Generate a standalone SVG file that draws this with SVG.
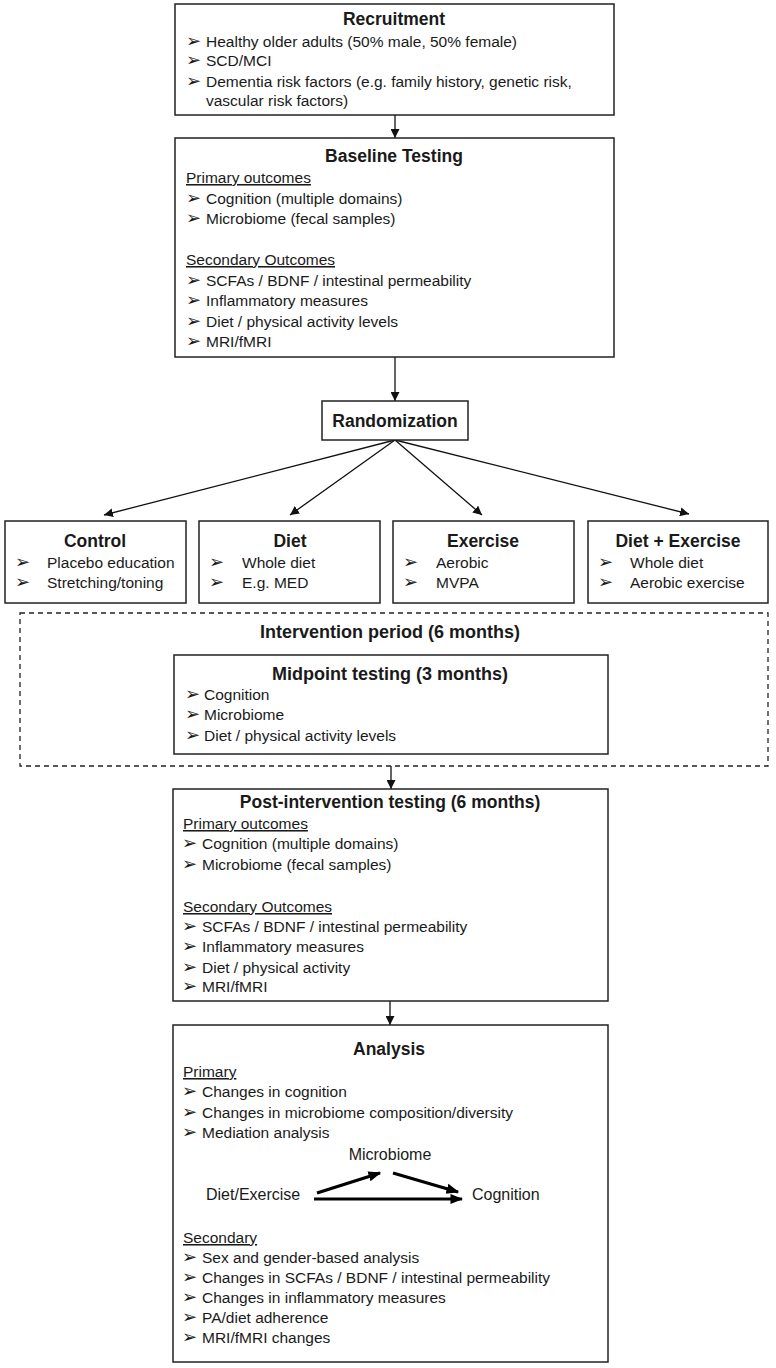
<svg xmlns="http://www.w3.org/2000/svg" width="776" height="1368" viewBox="0 0 776 1368">
<style>
text{font-family:"Liberation Sans",Arial,sans-serif;fill:#1a1a1a}
.t{font-size:17.5px;font-weight:bold;text-anchor:middle}
.b{font-size:15.5px}
.u{font-size:15.5px;text-decoration:underline}
.k{font-family:"DejaVu Sans",sans-serif;font-size:18px}
.m{font-size:16px}
.box{fill:#fff;stroke:#222;stroke-width:1.5}
.dash{fill:none;stroke:#222;stroke-width:1.3;stroke-dasharray:5,4}
.c{fill:none;stroke:#111;stroke-width:1.3}
.thick{fill:none;stroke:#000;stroke-width:3.2}
</style>
<defs>
<marker id="ah" viewBox="0 0 10 10" refX="10" refY="5" markerWidth="9" markerHeight="9" markerUnits="userSpaceOnUse" orient="auto">
<path d="M0,0 L10,5 L0,10 z" fill="#111"/>
</marker>
<marker id="ah2" viewBox="0 0 10 10" refX="9" refY="5" markerWidth="4" markerHeight="4" orient="auto">
<path d="M0,1 L10,5 L0,9 z" fill="#000"/>
</marker>
</defs>
<rect width="776" height="1368" fill="#fff"/>

<g id="connectors">
<line class="c" x1="395" y1="115" x2="395" y2="138" marker-end="url(#ah)"/>
<line class="c" x1="395" y1="357" x2="395" y2="401" marker-end="url(#ah)"/>
<line class="c" x1="395" y1="440" x2="104" y2="515" marker-end="url(#ah)"/>
<line class="c" x1="395" y1="440" x2="290" y2="515" marker-end="url(#ah)"/>
<line class="c" x1="395" y1="440" x2="482" y2="515" marker-end="url(#ah)"/>
<line class="c" x1="395" y1="440" x2="689" y2="514" marker-end="url(#ah)"/>
<line class="c" x1="391" y1="766" x2="391" y2="789" marker-end="url(#ah)"/>
<line class="c" x1="390" y1="1001" x2="390" y2="1025" marker-end="url(#ah)"/>
</g>

<g id="recruitment">
<rect class="box" x="175" y="4" width="439" height="111"/>
<text class="t" x="394" y="25">Recruitment</text>
<text class="k" x="186" y="47">➢</text><text class="b" x="206" y="47">Healthy older adults (50% male, 50% female)</text>
<text class="k" x="186" y="66">➢</text><text class="b" x="206" y="66">SCD/MCI</text>
<text class="k" x="186" y="87">➢</text><text class="b" x="206" y="87">Dementia risk factors (e.g. family history, genetic risk,</text>
<text class="b" x="206" y="106">vascular risk factors)</text>
</g>

<g id="baseline">
<rect class="box" x="175" y="138" width="439" height="219"/>
<text class="t" x="394" y="162">Baseline Testing</text>
<text class="u" x="186" y="183">Primary outcomes</text>
<text class="k" x="186" y="204">➢</text><text class="b" x="206" y="204">Cognition (multiple domains)</text>
<text class="k" x="186" y="224">➢</text><text class="b" x="206" y="224">Microbiome (fecal samples)</text>
<text class="u" x="186" y="265">Secondary Outcomes</text>
<text class="k" x="186" y="286">➢</text><text class="b" x="206" y="286">SCFAs / BDNF / intestinal permeability</text>
<text class="k" x="186" y="306">➢</text><text class="b" x="206" y="306">Inflammatory measures</text>
<text class="k" x="186" y="327">➢</text><text class="b" x="206" y="327">Diet / physical activity levels</text>
<text class="k" x="186" y="347">➢</text><text class="b" x="206" y="347">MRI/fMRI</text>
</g>

<g id="randomization">
<rect class="box" x="322" y="401" width="146" height="39"/>
<text class="t" x="395" y="427">Randomization</text>
</g>

<g id="control">
<rect class="box" x="5" y="521" width="181" height="82"/>
<text class="t" x="95" y="547">Control</text>
<text class="k" x="15" y="568">➢</text><text class="b" x="47" y="568">Placebo education</text>
<text class="k" x="15" y="588">➢</text><text class="b" x="47" y="588">Stretching/toning</text>
</g>

<g id="diet">
<rect class="box" x="199" y="521" width="181" height="82"/>
<text class="t" x="290" y="547">Diet</text>
<text class="k" x="209" y="568">➢</text><text class="b" x="242" y="568">Whole diet</text>
<text class="k" x="209" y="588">➢</text><text class="b" x="242" y="588">E.g. MED</text>
</g>

<g id="exercise">
<rect class="box" x="393" y="521" width="181" height="82"/>
<text class="t" x="483" y="547">Exercise</text>
<text class="k" x="403" y="568">➢</text><text class="b" x="436" y="568">Aerobic</text>
<text class="k" x="403" y="588">➢</text><text class="b" x="436" y="588">MVPA</text>
</g>

<g id="diet-exercise">
<rect class="box" x="588" y="521" width="180" height="82"/>
<text class="t" x="678" y="547">Diet + Exercise</text>
<text class="k" x="598" y="568">➢</text><text class="b" x="630" y="568">Whole diet</text>
<text class="k" x="598" y="588">➢</text><text class="b" x="630" y="588">Aerobic exercise</text>
</g>

<g id="intervention-period">
<rect class="dash" x="20" y="613" width="748" height="153"/>
<text class="t" x="390" y="638" style="font-size:18px">Intervention period (6 months)</text>
</g>

<g id="midpoint">
<rect class="box" x="174" y="655" width="434" height="99"/>
<text class="t" x="390" y="680" style="font-size:18px">Midpoint testing (3 months)</text>
<text class="k" x="185" y="700">➢</text><text class="b" x="204" y="700">Cognition</text>
<text class="k" x="185" y="720">➢</text><text class="b" x="204" y="720">Microbiome</text>
<text class="k" x="185" y="741">➢</text><text class="b" x="204" y="741">Diet / physical activity levels</text>
</g>

<g id="post-intervention">
<rect class="box" x="173" y="789" width="435" height="212"/>
<text class="t" x="390" y="808">Post-intervention testing (6 months)</text>
<text class="u" x="183" y="829">Primary outcomes</text>
<text class="k" x="182" y="849">➢</text><text class="b" x="202" y="849">Cognition (multiple domains)</text>
<text class="k" x="182" y="870">➢</text><text class="b" x="202" y="870">Microbiome (fecal samples)</text>
<text class="u" x="183" y="912">Secondary Outcomes</text>
<text class="k" x="182" y="932">➢</text><text class="b" x="202" y="932">SCFAs / BDNF / intestinal permeability</text>
<text class="k" x="182" y="952">➢</text><text class="b" x="202" y="952">Inflammatory measures</text>
<text class="k" x="182" y="973">➢</text><text class="b" x="202" y="973">Diet / physical activity</text>
<text class="k" x="182" y="992">➢</text><text class="b" x="202" y="992">MRI/fMRI</text>
</g>

<g id="analysis">
<rect class="box" x="173" y="1025" width="435" height="337"/>
<text class="t" x="389" y="1055">Analysis</text>
<text class="u" x="183" y="1077">Primary</text>
<text class="k" x="182" y="1097">➢</text><text class="b" x="202" y="1097">Changes in cognition</text>
<text class="k" x="182" y="1118">➢</text><text class="b" x="202" y="1118">Changes in microbiome composition/diversity</text>
<text class="k" x="182" y="1138">➢</text><text class="b" x="202" y="1138">Mediation analysis</text>
<text class="m" x="390" y="1160" text-anchor="middle">Microbiome</text>
<text class="m" x="206" y="1200">Diet/Exercise</text>
<text class="m" x="472" y="1200">Cognition</text>
<line class="thick" x1="317" y1="1193" x2="380" y2="1173" marker-end="url(#ah2)"/>
<line class="thick" x1="393" y1="1173" x2="458" y2="1192" marker-end="url(#ah2)"/>
<line class="thick" x1="314" y1="1199" x2="462" y2="1199" marker-end="url(#ah2)"/>
<text class="u" x="183" y="1243">Secondary</text>
<text class="k" x="182" y="1263">➢</text><text class="b" x="202" y="1263">Sex and gender-based analysis</text>
<text class="k" x="182" y="1283">➢</text><text class="b" x="202" y="1283">Changes in SCFAs / BDNF / intestinal permeability</text>
<text class="k" x="182" y="1303">➢</text><text class="b" x="202" y="1303">Changes in inflammatory measures</text>
<text class="k" x="182" y="1323">➢</text><text class="b" x="202" y="1323">PA/diet adherence</text>
<text class="k" x="182" y="1343">➢</text><text class="b" x="202" y="1343">MRI/fMRI changes</text>
</g>
</svg>
